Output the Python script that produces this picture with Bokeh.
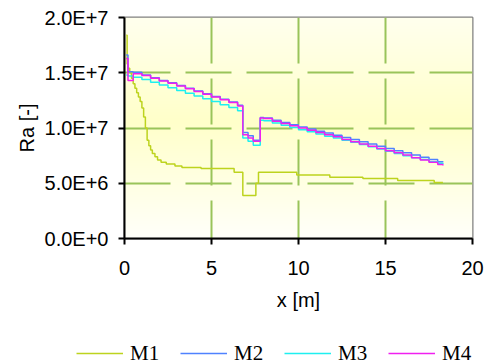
import numpy as np
from bokeh.plotting import figure
from bokeh.layouts import column
from bokeh.models import FixedTicker, Legend, LegendItem, Range1d
from bokeh.embed import file_html
from bokeh.resources import INLINE

# ---------------- data (Ra in units of 1E+6) ----------------
series_names = ["M1", "M2", "M3", "M4"]
series_colors = ["#BDD31E", "#4F82FF", "#1EEFF0", "#F020F0"]

x_m1 = [0.1, 0.15, 0.2, 0.3, 0.4, 0.5, 0.6, 0.7, 0.8, 0.9, 1.0, 1.1, 1.2, 1.3,
        1.4, 1.5, 1.6, 1.75, 1.9, 2.1, 2.4, 2.9, 3.3, 4.4, 6.3, 6.8, 7.55, 7.7,
        9.9, 11.8, 13.7, 15.7, 17.8, 18.3]
ra_m1 = [18.4, 15.8, 15.4, 15.0, 14.5, 14.0, 13.6, 13.2, 12.8, 12.4, 11.8, 11.0,
         10.0, 8.9, 8.4, 8.0, 7.7, 7.4, 7.1, 6.9, 6.75, 6.55, 6.43, 6.33, 6.0,
         3.9, 5.0, 6.0, 5.75, 5.55, 5.43, 5.25, 5.07, 5.07]

x_m = [0.1, 0.2, 0.5, 1.0, 1.5, 2.0, 2.5, 3.0, 3.5, 4.0, 4.5, 5.0, 5.5, 6.0,
       6.5, 6.8, 7.1, 7.4, 7.8, 8.0, 8.5, 9.0, 9.5, 10.0, 10.5, 11.0, 11.5,
       12.0, 12.5, 13.0, 13.5, 14.0, 14.5, 15.0, 15.5, 16.0, 16.5, 17.0, 17.5,
       18.0, 18.3]
ra_m2 = [16.6, 15.1, 15.05, 14.8, 14.55, 14.3, 14.1, 13.85, 13.6, 13.35, 13.1,
         12.85, 12.6, 12.35, 12.05, 9.6, 9.3, 8.9, 10.95, 10.9, 10.7, 10.5,
         10.3, 10.1, 9.9, 9.7, 9.55, 9.35, 9.15, 8.95, 8.75, 8.55, 8.35, 8.15,
         7.95, 7.75, 7.55, 7.35, 7.15, 6.95, 6.9]
ra_m3 = [14.8, 14.7, 14.6, 14.4, 14.15, 13.9, 13.65, 13.4, 13.15, 12.9, 12.65,
         12.4, 12.1, 11.85, 11.55, 9.1, 8.8, 8.45, 10.7, 10.65, 10.45, 10.25,
         10.05, 9.85, 9.65, 9.45, 9.25, 9.1, 8.9, 8.7, 8.5, 8.3, 8.1, 7.9,
         7.7, 7.5, 7.3, 7.15, 6.95, 6.8, 6.75]
ra_m4 = [16.3, 14.3, 14.9, 14.75, 14.5, 14.25, 14.05, 13.8, 13.55, 13.3, 13.05,
         12.8, 12.55, 12.3, 12.0, 9.4, 9.1, 8.8, 10.9, 10.85, 10.6, 10.4, 10.2,
         10.0, 9.8, 9.6, 9.4, 9.2, 8.95, 8.75, 8.55, 8.35, 8.15, 7.95, 7.75,
         7.55, 7.3, 7.1, 6.9, 6.7, 6.6]
SCALE = 1e6

x_ticks = [0, 5, 10, 15, 20]
y_ticks = [0, 5e6, 1e7, 1.5e7, 2e7]
y_tick_labels = ["0.0E+0", "5.0E+6", "1.0E+7", "1.5E+7", "2.0E+7"]
x_grid = [5, 10, 15]
y_grid = [5e6, 1e7, 1.5e7]

# ---------------- main figure ----------------
p = figure(width=489, height=334, output_backend="svg", toolbar_location=None,
           x_range=Range1d(0, 20), y_range=Range1d(0, 2e7),
           min_border_left=124, min_border_right=17, min_border_top=17,
           min_border_bottom=96, border_fill_color="white")
p.outline_line_color = "#808080"
p.outline_line_width = 2

# background gradient of the plot area
n = 221
t = np.linspace(0, 1, n)
blue = np.interp(t, [0.0, 0.53, 1.0], [250, 202, 238]).astype(np.uint8)
img = np.zeros((n, 1), dtype=np.uint32)
view = img.view(dtype=np.uint8).reshape((n, 1, 4))
view[:, 0, 0] = 255
view[:, 0, 1] = 255
view[:, 0, 2] = blue
view[:, 0, 3] = 255
bg = p.image_rgba(image=[img], x=0, y=0, dw=20, dh=2e7)
bg.level = "image"

# grid
p.xgrid.ticker = FixedTicker(ticks=x_grid)
p.ygrid.ticker = FixedTicker(ticks=y_grid)
for g in (p.xgrid, p.ygrid):
    g.grid_line_color = "#99C45A"
    g.grid_line_width = 2
    g.grid_line_dash = "46 15"
p.xgrid.grid_line_dash_offset = 8

# axes
font = "Liberation Sans"
p.xaxis.ticker = FixedTicker(ticks=x_ticks)
p.yaxis.ticker = FixedTicker(ticks=y_ticks)
p.yaxis.major_label_overrides = {v: s for v, s in zip(y_ticks, y_tick_labels)}
for ax in (p.xaxis, p.yaxis):
    ax.axis_line_color = "#000000"
    ax.axis_line_width = 2
    ax.major_tick_line_color = "#000000"
    ax.major_tick_line_width = 2
    ax.major_tick_out = 6
    ax.major_tick_in = 0
    ax.minor_tick_line_color = None
    ax.major_label_text_font = font
    ax.major_label_text_font_size = "20px"
    ax.major_label_text_color = "#000000"
    ax.axis_label_text_font = font
    ax.axis_label_text_font_size = "20px"
    ax.axis_label_text_font_style = "normal"
    ax.axis_label_text_color = "#000000"
p.xaxis.axis_label = "x [m]"
p.yaxis.axis_label = "Ra [-]"
p.xaxis.major_label_standoff = 16
p.yaxis.major_label_standoff = 10
p.xaxis.axis_label_standoff = 11
p.yaxis.axis_label_standoff = 4

# series
xs_all = [x_m1, x_m, x_m, x_m]
ys_all = [ra_m1, ra_m2, ra_m3, ra_m4]
for xs, ys, c in zip(xs_all, ys_all, series_colors):
    p.step(xs, [v * SCALE for v in ys], mode="after",
           line_color=c, line_width=1.5)

# ---------------- legend strip ----------------
pl = figure(width=489, height=28, output_backend="svg", toolbar_location=None,
            x_range=Range1d(0, 1), y_range=Range1d(0, 1),
            x_axis_type=None, y_axis_type=None,
            min_border=0, border_fill_color="white",
            background_fill_color="white")
pl.outline_line_color = None
pl.grid.visible = False

# let the strip keep its own full-width frame (no alignment with main frame)
legend_x = -48
if "frame_align" in pl.properties():
    pl.frame_align = False
    p.frame_align = False
    legend_x = 76

# legend proxies: one point each, placed outside the visible range
leg_renderers = [pl.line([-2, -1], [-2, -2], line_color=c, line_width=1.5)
                 for c in series_colors]
legend = Legend(items=[LegendItem(label=nm, renderers=[r])
                       for nm, r in zip(series_names, leg_renderers)],
                orientation="horizontal", location=(legend_x, -4),
                glyph_width=47, glyph_height=26, label_standoff=7,
                spacing=16, label_width=34, label_height=16,
                padding=0, margin=0,
                border_line_color=None, background_fill_alpha=0,
                label_text_font="Liberation Serif",
                label_text_font_size="21px", label_text_color="#000000")
pl.add_layout(legend)

layout = column(p, pl, spacing=0)
open("out.html", "w").write(file_html(layout, INLINE))
